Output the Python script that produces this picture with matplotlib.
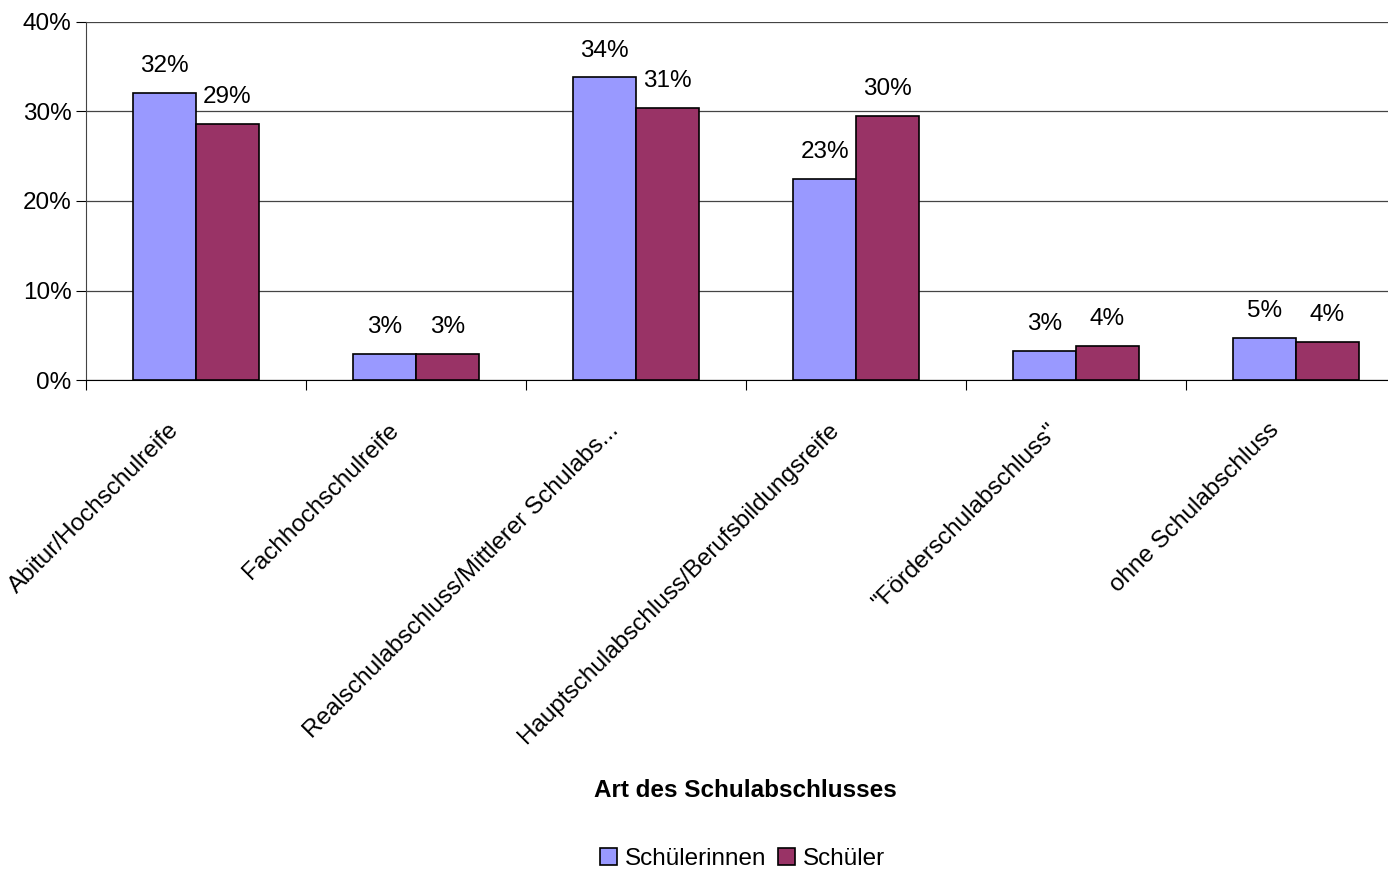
import numpy as np
import matplotlib
matplotlib.use("Agg")
import matplotlib.pyplot as plt
from matplotlib.ticker import FuncFormatter
from matplotlib.transforms import ScaledTranslation

plt.rcParams['font.family'] = ['Liberation Sans', 'DejaVu Sans']

categories = ['Abitur/Hochschulreife', 'Fachhochschulreife',
              'Realschulabschluss/Mittlerer Schulabs...',
              'Hauptschulabschluss/Berufsbildungsreife',
              '"Förderschulabschluss"', 'ohne Schulabschluss']
schuelerinnen = [32.1, 2.9, 33.8, 22.5, 3.2, 4.7]
schueler = [28.6, 2.9, 30.4, 29.5, 3.8, 4.3]
labels_innen = ['32%', '3%', '34%', '23%', '3%', '5%']
labels_schueler = ['29%', '3%', '31%', '30%', '4%', '4%']

fs = 17.5
fig = plt.figure(figsize=(13.88, 8.69), dpi=100)
ax = fig.add_axes([0.062, 0.5627, 0.951, 0.412])

x = np.arange(len(categories))
w = 0.286
b1 = ax.bar(x - w / 2, schuelerinnen, w, color='#9999FF', edgecolor='black',
            linewidth=1.2, label='Schülerinnen', zorder=3)
b2 = ax.bar(x + w / 2, schueler, w, color='#993366', edgecolor='black',
            linewidth=1.2, label='Schüler', zorder=3)
ax.bar_label(b1, labels=labels_innen, padding=11.5, fontsize=fs)
ax.bar_label(b2, labels=labels_schueler, padding=11.5, fontsize=fs)

ax.set_xlim(-0.5, len(categories) - 0.5)
ax.set_ylim(0, 40)
ax.set_yticks([0, 10, 20, 30, 40])
ax.yaxis.set_major_formatter(FuncFormatter(lambda v, p: f'{v:.0f}%'))
ax.grid(axis='y', color='#444444', linewidth=0.9, zorder=0)

ax.set_xticks(np.arange(len(categories) + 1) - 0.5)
ax.set_xticklabels([])
ax.set_xticks(x, minor=True)
ax.set_xticklabels(categories, minor=True, rotation=45, ha='right',
                   rotation_mode='anchor', fontsize=fs)
ax.tick_params(axis='x', which='minor', length=0, pad=24)
ax.tick_params(axis='x', which='major', length=7, direction='out')
ax.tick_params(axis='y', length=7, labelsize=fs)
shift = ScaledTranslation(-0.28, -0.06, fig.dpi_scale_trans)
for lbl in ax.get_xticklabels(minor=True):
    lbl.set_transform(lbl.get_transform() + shift)

for s in ['top', 'right']:
    ax.spines[s].set_visible(False)
ax.spines['left'].set_color('#444444')

fig.text(0.537, 0.09, 'Art des Schulabschlusses', ha='center', va='center',
         fontsize=fs, fontweight='bold')
fig.legend(loc='center', bbox_to_anchor=(0.535, 0.012), ncol=2, frameon=False,
           fontsize=fs, handlelength=0.7, handleheight=0.7, handletextpad=0.3,
           columnspacing=0.5)

fig.savefig('out.png', dpi=100)
